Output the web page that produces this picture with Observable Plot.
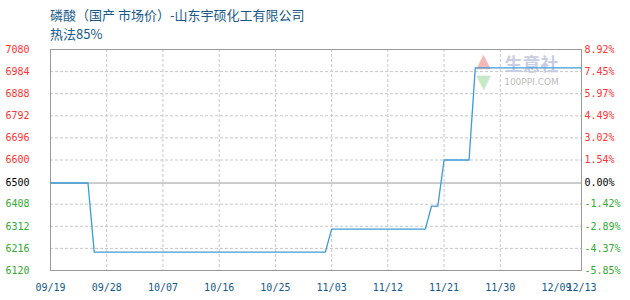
<!DOCTYPE html>
<html>
<head>
<meta charset="utf-8">
<script src="https://cdn.jsdelivr.net/npm/d3@7"></script>
<script src="https://cdn.jsdelivr.net/npm/@observablehq/plot@0.6"></script>
<style>
  body { margin: 0; background: #fff; }
  #head { height: 40px; padding-left: 50px; box-sizing: border-box; font-family: "Noto Sans CJK SC", sans-serif; color: #16598a; }
  #head .t { font-size: 13px; line-height: 13px; padding-top: 8px; }
  #head .s { font-size: 13px; line-height: 13px; padding-top: 6px; }
</style>
</head>
<body>
<div id="head">
  <div class="t">磷酸（国产 市场价）-山东宇硕化工有限公司</div>
  <div class="s">热法85%</div>
</div>
<div id="chart"></div>
<script>
// Price series (yuan/ton): change points of the daily quote
const dates  = ["2023-09-19", "2023-09-25", "2023-09-26", "2023-11-02", "2023-11-03", "2023-11-18",
                "2023-11-19", "2023-11-20", "2023-11-21", "2023-11-25", "2023-11-26", "2023-12-13"];
const prices = [6500, 6500, 6200, 6200, 6300, 6300, 6400, 6400, 6600, 6600, 7000, 7000];

// Axis ticks
const basePrice = 6500;
const yTicks = [7080, 6984, 6888, 6792, 6696, 6600, 6500, 6408, 6312, 6216, 6120];
const pctLabels = ["8.92%", "7.45%", "5.97%", "4.49%", "3.02%", "1.54%", "0.00%", "-1.42%", "-2.89%", "-4.37%", "-5.85%"];
const xTickDates = ["2023-09-19", "2023-09-28", "2023-10-07", "2023-10-16", "2023-10-25", "2023-11-03",
                    "2023-11-12", "2023-11-21", "2023-11-30", "2023-12-09", "2023-12-13"];
const xDomain = ["2023-09-19", "2023-12-13"];

const parse = d3.utcParse("%Y-%m-%d");
const series = dates.map((d, i) => ({date: parse(d), price: prices[i]}));
const xTicks = xTickDates.map(parse);
const innerTicks = xTicks.slice(1, -2);
const yRows = yTicks.map((v, i) => ({v, pct: pctLabels[i]}));

const RED = "#ff3333", GREEN = "#33aa33", BLACK = "#000";
const colorOf = v => v > basePrice ? RED : v < basePrice ? GREEN : BLACK;
const up = yRows.filter(d => d.v > basePrice);
const mid = yRows.filter(d => d.v === basePrice);
const down = yRows.filter(d => d.v < basePrice);

// faint logo in the top-right corner of the frame
const mark = (s, dx, dy, o) => Plot.text([s], {
  frameAnchor: "top-right", textAnchor: "middle", lineAnchor: "middle", dx, dy, ...o
});

const chart = Plot.plot({
  width: 630,
  height: 260,
  marginTop: 9,
  marginBottom: 30,
  marginLeft: 50,
  marginRight: 49,
  style: {fontFamily: "DejaVu Sans Mono, monospace", fontSize: "10px", background: "#fff"},
  x: {type: "utc", domain: xDomain.map(parse)},
  y: {domain: [6120, 7080], axis: null},
  marks: [
    // dashed grid
    Plot.ruleY(yTicks.filter(v => v !== basePrice), {stroke: "#c8c8c8", strokeDasharray: "3,2"}),
    Plot.ruleX(innerTicks, {stroke: "#c8c8c8", strokeDasharray: "3,2"}),
    Plot.ruleY([basePrice], {stroke: "#999"}),
    Plot.frame({stroke: "#999"}),
    // watermark
    mark("▲", -98, 11, {fill: "#f4b8b8", fontSize: 19, fontFamily: "DejaVu Sans"}),
    mark("▼", -98, 32, {fill: "#c6e8c6", fontSize: 19, fontFamily: "DejaVu Sans"}),
    mark("生意社", -50, 16, {fill: "#c8cde2", fontSize: 18, fontFamily: "Noto Sans CJK SC", fontWeight: "bold"}),
    mark("100PPI.COM", -50, 33, {fill: "#bbbbbb", fontSize: 9, fontFamily: "DejaVu Sans"}),
    // price line
    Plot.line(series, {x: "date", y: "price", stroke: "#3d9bd8", strokeWidth: 1.3}),
    // left axis labels
    ...[up, mid, down].map(rows => Plot.text(rows, {
      y: "v", text: d => String(d.v), frameAnchor: "left", dx: -45, textAnchor: "start",
      fill: colorOf(rows[0].v)
    })),
    // right axis labels
    ...[up, mid, down].map(rows => Plot.text(rows, {
      y: "v", text: "pct", frameAnchor: "right", dx: 3, textAnchor: "start",
      fill: colorOf(rows[0].v)
    })),
    // x axis labels
    Plot.axisX(xTicks, {tickFormat: d3.utcFormat("%m/%d"), tickSize: 0, tickPadding: 13, color: "#16598a", label: null})
  ]
});
document.getElementById("chart").appendChild(chart);
</script>
</body>
</html>
